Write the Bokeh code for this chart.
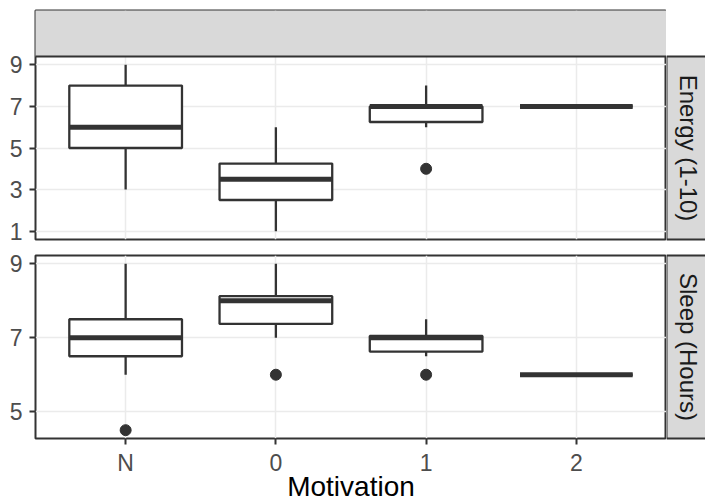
import math
from bokeh.plotting import figure
from bokeh.models import (ColumnDataSource, FactorRange, Range1d, FixedTicker,
                          CategoricalTicker, Grid)
from bokeh.core.properties import value
from bokeh.transform import dodge
from bokeh.layouts import column, row
from bokeh.embed import file_html
from bokeh.resources import INLINE

# ---------------- data ----------------
categories = ["N", "0", "1", "2"]

energy_lower = [3, 1, 6, 7]
energy_q1 = [5, 2.5, 6.25, 7]
energy_median = [6, 3.5, 7, 7]
energy_q3 = [8, 4.25, 7, 7]
energy_upper = [9, 6, 8, 7]
energy_outlier_cat = ["1"]
energy_outlier_val = [4]

sleep_lower = [6, 7, 6.5, 6]
sleep_q1 = [6.5, 7.375, 6.625, 6]
sleep_median = [7, 8, 7, 6]
sleep_q3 = [7.5, 8.125, 7.05, 6]
sleep_upper = [9, 9, 7.5, 6]
sleep_outlier_cat = ["N", "0", "1"]
sleep_outlier_val = [4.5, 6, 6]

energy_ticks = [1, 3, 5, 7, 9]
sleep_ticks = [5, 7, 9]

x_title = "Motivation"
strip_labels = ["Energy (1-10)", "Sleep (Hours)"]

# ---------------- layout / style ----------------
FONT = "Liberation Sans"
DARK = "#333333"
GRID = "#EBEBEB"
STRIP_FILL = "#D9D9D9"
LEFT, FRAME_W, PANEL_H = 35, 631, 183
TOP_STRIP_TOP, TOP_STRIP_H = 10, 46
GAP_A, GAP_B = 8, 8          # space below energy panel / above sleep panel
BOTTOM = 66                  # room for x tick labels and title
STRIP_W = 39
X_PAD = 0.1
BOX_W = 0.75
LW = 2.3


def style_axis(ax, standoff):
    ax.axis_line_color = None
    ax.major_tick_in = 0
    ax.major_tick_out = 6
    ax.major_tick_line_color = DARK
    ax.major_tick_line_width = 2
    ax.minor_tick_line_color = None
    ax.major_label_text_font = FONT
    ax.major_label_text_font_size = "23px"
    ax.major_label_text_color = "#4D4D4D"
    ax.major_label_standoff = standoff


def make_panel(lower, q1, med, q3, upper, out_cat, out_val, ticks,
               extra_top_px, top_border, bottom_border, with_xaxis):
    lo = min(lower + out_val)
    hi = max(upper + out_val)
    pad = 0.05 * (hi - lo)
    y0, y1 = lo - pad, hi + pad
    ppu = PANEL_H / (y1 - y0)
    y_end = y1 + extra_top_px / ppu

    p = figure(x_range=FactorRange(factors=categories, range_padding=X_PAD,
                                   range_padding_units="absolute"),
               y_range=Range1d(y0, y_end),
               frame_width=FRAME_W, frame_height=PANEL_H + extra_top_px,
               min_border_left=LEFT, min_border_right=0,
               min_border_top=top_border, min_border_bottom=bottom_border,
               x_axis_location="below" if with_xaxis else None,
               toolbar_location=None, output_backend="svg", tools="")
    p.background_fill_color = "white"
    p.border_fill_color = "white"
    p.outline_line_color = DARK
    p.outline_line_width = 2

    p.center = [
        Grid(dimension=0, ticker=CategoricalTicker(), grid_line_color=GRID, grid_line_width=1.5),
        Grid(dimension=1, ticker=FixedTicker(ticks=ticks), grid_line_color=GRID, grid_line_width=1.5),
    ]

    yax = p.yaxis[0]
    yax.ticker = FixedTicker(ticks=ticks)
    style_axis(yax, 7)

    if with_xaxis:
        xax = p.xaxis[0]
        style_axis(xax, 5)
        xax.axis_label = x_title
        xax.axis_label_text_font = FONT
        xax.axis_label_text_font_size = "28px"
        xax.axis_label_text_font_style = "normal"
        xax.axis_label_text_color = "black"
        xax.axis_label_standoff = -8

    src = ColumnDataSource(dict(cat=categories, lower=lower, q1=q1, med=med, q3=q3, upper=upper))
    p.segment(x0="cat", y0="q3", x1="cat", y1="upper", line_color=DARK, line_width=LW, source=src)
    p.segment(x0="cat", y0="lower", x1="cat", y1="q1", line_color=DARK, line_width=LW, source=src)
    p.vbar(x="cat", width=BOX_W, bottom="q1", top="q3", fill_color="white",
           line_color=DARK, line_width=LW, source=src)
    p.segment(x0=dodge("cat", -BOX_W / 2, range=p.x_range), y0="med",
              x1=dodge("cat", BOX_W / 2, range=p.x_range), y1="med",
              line_color=DARK, line_width=5, line_cap="butt", source=src)
    osrc = ColumnDataSource(dict(cat=out_cat, val=out_val))
    p.scatter(x="cat", y="val", size=11, color=DARK, source=osrc)

    if extra_top_px > 0:
        # empty facet strip on top of the panel
        p.quad(left=-1, right=len(categories) + 1, bottom=y1, top=y_end + 1,
               fill_color=STRIP_FILL, line_color=DARK, line_width=2)
    return p


p_e = make_panel(energy_lower, energy_q1, energy_median, energy_q3, energy_upper,
                 energy_outlier_cat, energy_outlier_val, energy_ticks,
                 TOP_STRIP_H, TOP_STRIP_TOP, GAP_A, False)
p_s = make_panel(sleep_lower, sleep_q1, sleep_median, sleep_q3, sleep_upper,
                 sleep_outlier_cat, sleep_outlier_val, sleep_ticks,
                 0, GAP_B, BOTTOM, True)

# ---- right-hand facet strips (one figure, pixel-based coordinates) ----
H_E = TOP_STRIP_TOP + TOP_STRIP_H + PANEL_H + GAP_A
H_S = GAP_B + PANEL_H + BOTTOM
TOTAL_H = H_E + H_S
e_top = TOP_STRIP_TOP + TOP_STRIP_H
s_top = H_E + GAP_B
strip_tops = [e_top, s_top]
strip_bottoms = [e_top + PANEL_H, s_top + PANEL_H]

ps = figure(width=STRIP_W, height=TOTAL_H, x_range=Range1d(0, STRIP_W),
            y_range=Range1d(TOTAL_H, 0), x_axis_location=None, y_axis_location=None,
            min_border=0, toolbar_location=None, output_backend="svg", tools="")
ps.background_fill_color = "white"
ps.border_fill_color = "white"
ps.outline_line_color = None
ps.grid.visible = False
ssrc = ColumnDataSource(dict(top=strip_tops, bottom=strip_bottoms, label=strip_labels,
                             mid=[(a + b) / 2 for a, b in zip(strip_tops, strip_bottoms)]))
ps.quad(left=0, right=STRIP_W + 20, top="top", bottom="bottom", fill_color=STRIP_FILL,
        line_color=DARK, line_width=2, source=ssrc)
ps.text(x=22.3, y="mid", text="label", angle=-math.pi / 2, text_align="center",
        text_baseline="middle", text_font=value(FONT), text_font_size="24px",
        text_color="#1A1A1A", source=ssrc)

layout = row(column(p_e, p_s), ps)
open("out.html", "w").write(file_html(layout, INLINE))
